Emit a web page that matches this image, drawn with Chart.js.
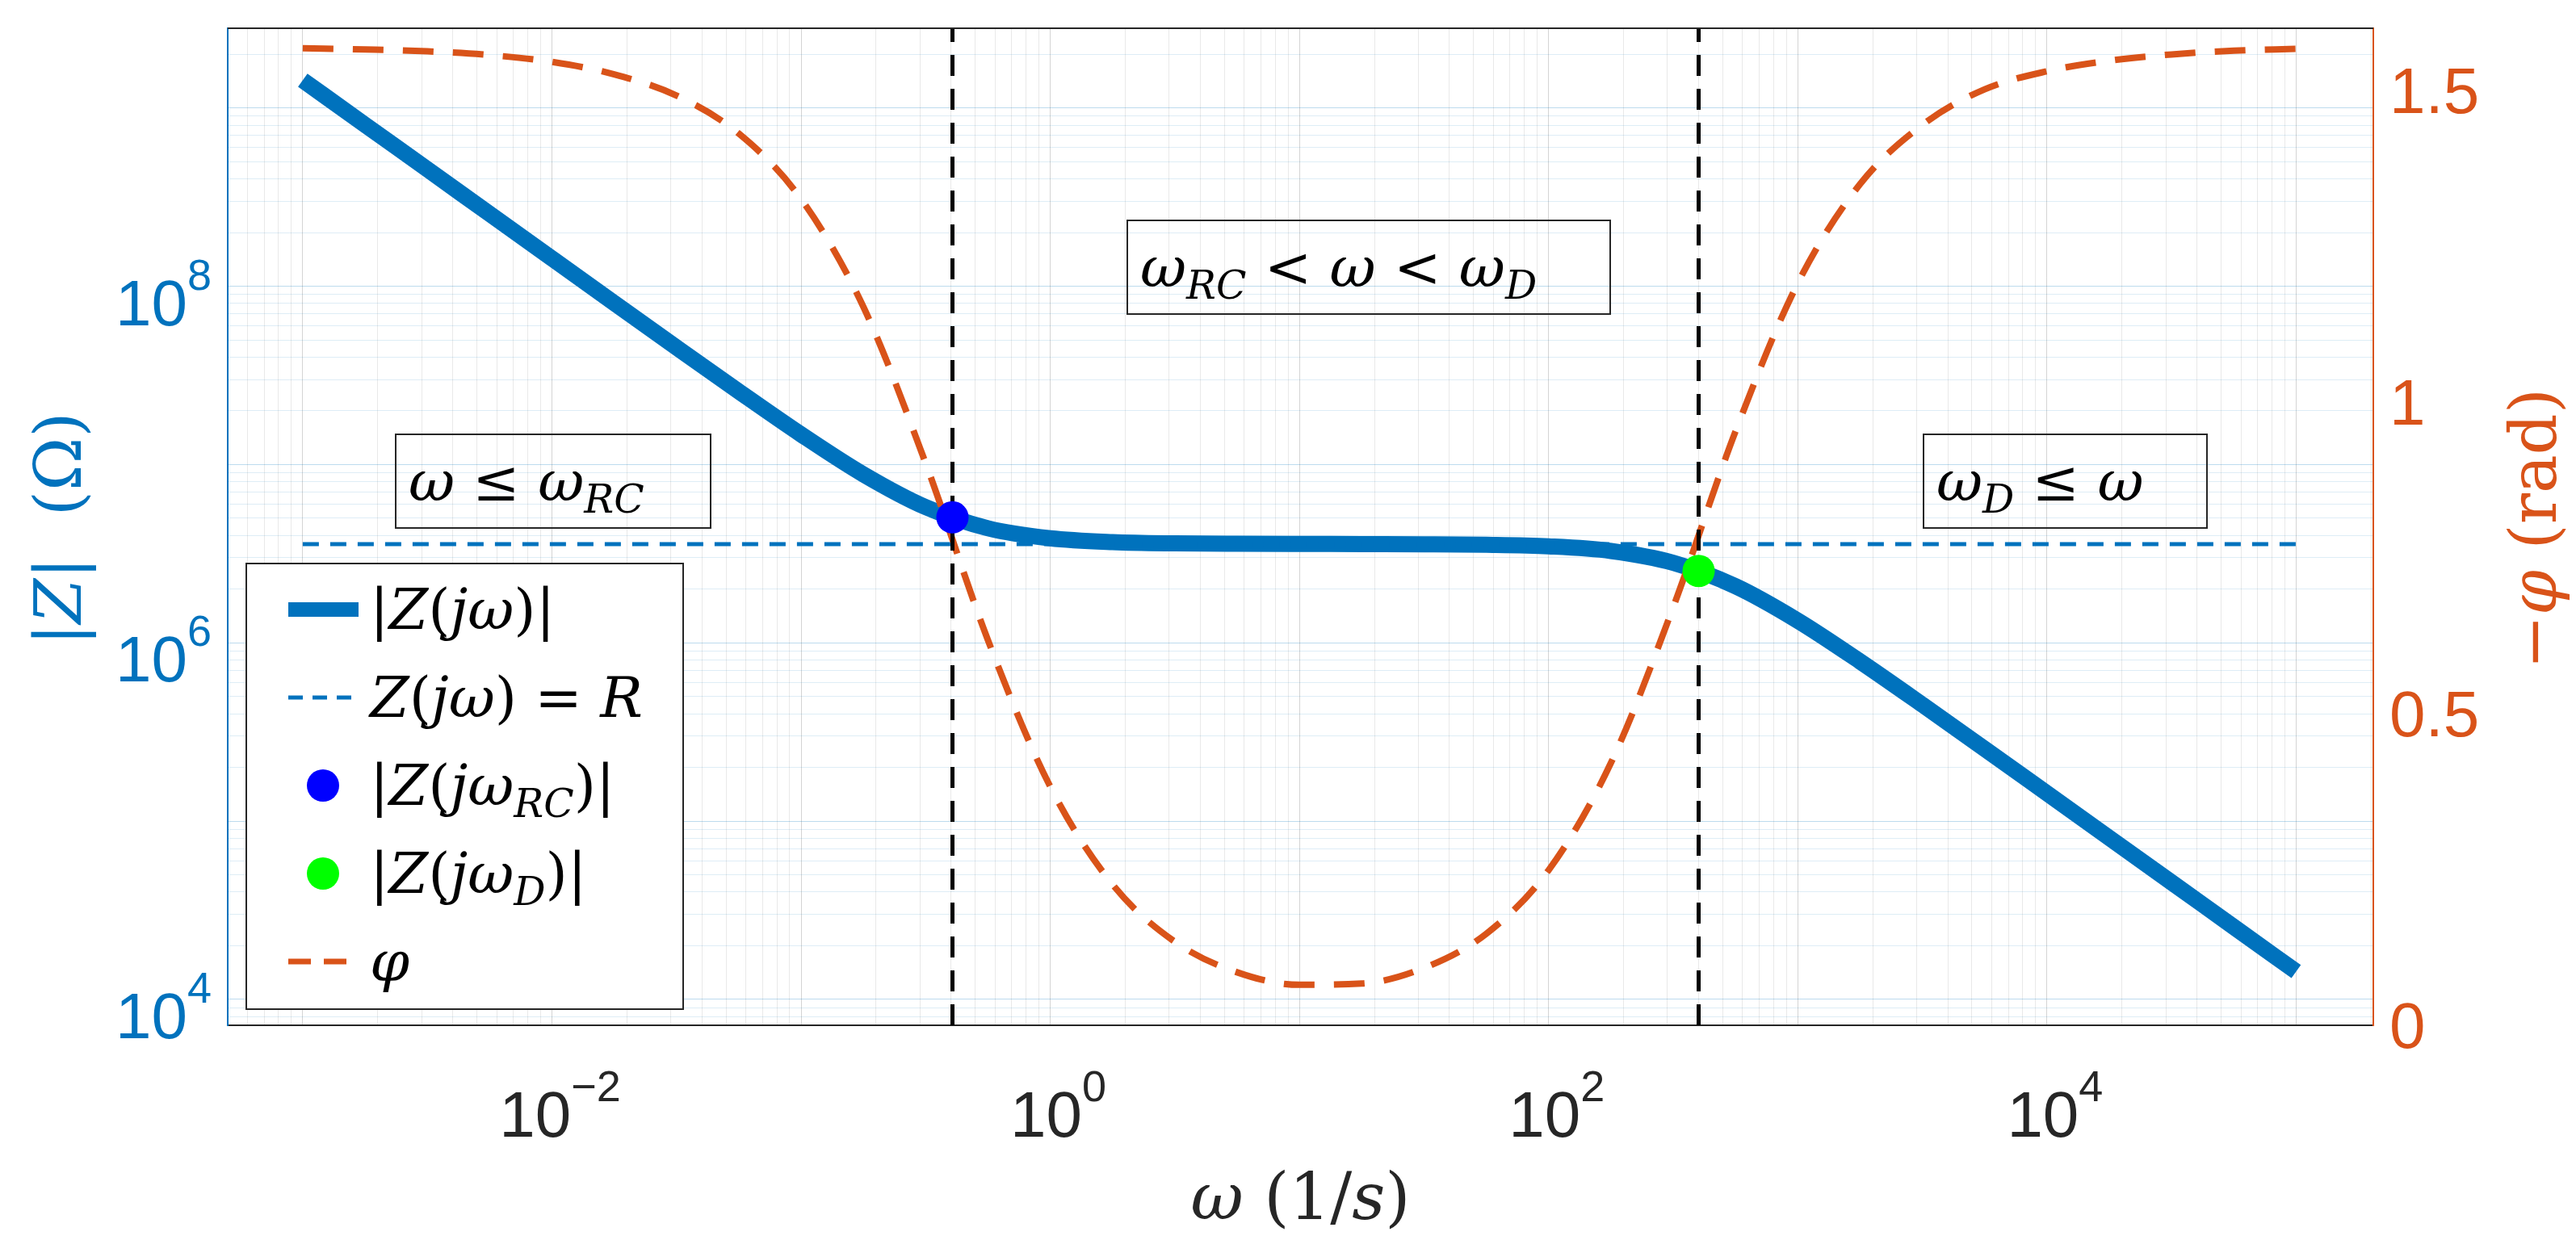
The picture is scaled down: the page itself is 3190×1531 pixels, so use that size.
<!DOCTYPE html>
<html>
<head>
<meta charset="utf-8">
<script src="https://cdn.jsdelivr.net/npm/chart.js@4"></script>
<style>
  html, body { margin: 0; padding: 0; background: #fff; }
  #wrap { width: 3190px; height: 1531px; }
</style>
</head>
<body>
<div id="wrap"><canvas id="bode" width="3190" height="1531"></canvas></div>
<script>
// --- Data ---
const omega = [0.001, 0.001778, 0.003162, 0.005623, 0.01, 0.01778, 0.03162, 0.05623,
  0.1, 0.1778, 0.3162, 0.5623, 1, 1.778, 3.162, 5.623, 10, 17.78, 31.62, 56.23,
  100, 177.8, 316.2, 562.3, 1000, 1778, 3162, 5623, 10000, 17783, 31623, 56234, 100000];
const zMag = [1.432e9, 8.05e8, 4.53e8, 2.546e8, 1.432e8, 8.06e7, 4.54e7, 2.572e7,
  1.476e7, 8.81e6, 5.77e6, 4.39e6, 3.86e6, 3.673e6, 3.612e6, 3.593e6, 3.585e6, 3.581e6,
  3.573e6, 3.549e6, 3.477e6, 3.275e6, 2.811e6, 2.077e6, 1.331e6, 7.86e5, 4.497e5,
  2.543e5, 1.432e5, 8.06e4, 4.533e4, 2.548e4, 1.433e4];
const phase = [1.568, 1.566, 1.563, 1.557, 1.546, 1.526, 1.492, 1.431, 1.326, 1.153,
  0.902, 0.618, 0.383, 0.226, 0.134, 0.085, 0.065, 0.067, 0.092, 0.147, 0.249, 0.421,
  0.671, 0.953, 1.191, 1.350, 1.445, 1.502, 1.531, 1.548, 1.558, 1.564, 1.567];
const rLevel = 3.58e6;
const rSpan = [0.001, 100000];
const wRC = 0.405, zRC = 5.06e6;
const wD = 400, zD = 2.53e6;
const xRange = [5e-4, 2.04e5];
const yRange = [7.16e3, 2.8e9];
const phaseRange = [0, 1.6];
const xMajors = [-2, 0, 2, 4];
const yMajors = [4, 6, 8];
const phaseTicks = [0, 0.5, 1, 1.5];

const BLUE = "#0072BD", ORANGE = "#D95319";
const SERIF = '"DejaVu Serif", "Liberation Serif", serif';
const SANS = '"Liberation Sans", Arial, sans-serif';

function logTicks(min, max) {
  const out = [];
  for (let k = -5; k <= 10; k++)
    for (let m = 1; m <= 9; m++) {
      const v = m * Math.pow(10, k);
      if (v >= min * 0.999 && v <= max * 1.001) out.push({ value: v });
    }
  return out;
}
const isMajor = (v) => Math.abs(Math.log10(v) - Math.round(Math.log10(v))) < 1e-6;

// --- Rich text: parts [{t, it, sub}] ---
function richWidth(ctx, parts, size) {
  let w = 0;
  parts.forEach((p) => {
    const s = p.sub ? size * 0.7 : size;
    ctx.font = (p.it ? "italic " : "") + s + "px " + SERIF;
    w += ctx.measureText(p.t).width;
  });
  return w;
}
function drawRich(ctx, parts, x, y, size, color, align) {
  let w = richWidth(ctx, parts, size);
  let cx = align === "center" ? x - w / 2 : x;
  ctx.fillStyle = color;
  ctx.textBaseline = "alphabetic";
  ctx.textAlign = "left";
  parts.forEach((p) => {
    const s = p.sub ? size * 0.7 : size;
    ctx.font = (p.it ? "italic " : "") + s + "px " + SERIF;
    ctx.fillText(p.t, cx, p.sub ? y + size * 0.22 : y);
    cx += ctx.measureText(p.t).width;
  });
}
const I = (t) => ({ t, it: true });
const U = (t) => ({ t, it: false });
const S = (t) => ({ t, it: true, sub: true });

function drawPow(ctx, exp, x, y, color, align) {
  const base = 80, sup = 54;
  ctx.font = base + "px " + SANS;
  const wb = ctx.measureText("10").width;
  ctx.font = sup + "px " + SANS;
  const we = ctx.measureText(exp).width;
  let sx = align === "right" ? x - wb - we : x - (wb + we) / 2;
  ctx.fillStyle = color;
  ctx.textAlign = "left";
  ctx.textBaseline = "alphabetic";
  ctx.font = base + "px " + SANS;
  ctx.fillText("10", sx, y);
  ctx.font = sup + "px " + SANS;
  ctx.fillText(exp, sx + wb, y - 44);
}

// --- Overlay: labels, legend, text boxes, frame ---
const overlay = {
  id: "overlay",
  afterDraw(chart) {
    const ctx = chart.ctx;
    const { left, right, top, bottom } = chart.chartArea;
    const sx = chart.scales.x, sy = chart.scales.y, sp = chart.scales.y2;
    ctx.save();
    ctx.strokeStyle = "#262626"; ctx.lineWidth = 2;
    ctx.beginPath(); ctx.moveTo(left, top); ctx.lineTo(right, top); ctx.stroke();

    // tick labels
    xMajors.forEach((e) => {
      drawPow(ctx, e < 0 ? "\u2212" + (-e) : String(e), sx.getPixelForValue(Math.pow(10, e)) + 10, bottom + 138, "#262626", "center");
    });
    yMajors.forEach((e) => {
      drawPow(ctx, String(e), left - 20, sy.getPixelForValue(Math.pow(10, e)) + 48, BLUE, "right");
    });
    ctx.font = "80px " + SANS; ctx.fillStyle = ORANGE;
    ctx.textAlign = "left"; ctx.textBaseline = "middle";
    phaseTicks.forEach((v) => ctx.fillText(String(v), right + 20, sp.getPixelForValue(v) + 6));

    // axis titles
    drawRich(ctx, [I("\u03c9"), U(" (1/"), I("s"), U(")")], (left + right) / 2, 1510, 80, "#262626", "center");
    ctx.save(); ctx.translate(100, 655); ctx.rotate(-Math.PI / 2);
    drawRich(ctx, [U("|"), I("Z"), U("|  (\u03a9)")], 0, 0, 80, BLUE, "center");
    ctx.restore();
    ctx.save(); ctx.translate(3165, 655); ctx.rotate(-Math.PI / 2);
    drawRich(ctx, [U("\u2212"), I("\u03c6"), U(" (rad)")], 0, 0, 80, ORANGE, "center");
    ctx.restore();

    // region boxes
    const boxes = [
      { x: 490, y: 538, w: 390, h: 116, parts: [I("\u03c9 \u2264 \u03c9"), S("RC")] },
      { x: 1396, y: 273, w: 598, h: 116, parts: [I("\u03c9"), S("RC"), I(" < \u03c9 < \u03c9"), S("D")] },
      { x: 2382, y: 538, w: 351, h: 116, parts: [I("\u03c9"), S("D"), I(" \u2264 \u03c9")] }
    ];
    boxes.forEach((b) => {
      ctx.strokeStyle = "#262626"; ctx.lineWidth = 2;
      ctx.strokeRect(b.x, b.y, b.w, b.h);
      drawRich(ctx, b.parts, b.x + 16, b.y + 82, 70, "#000", "left");
    });

    // legend
    const lx = 305, ly = 698, lw = 541, lh = 552;
    ctx.fillStyle = "#fff"; ctx.fillRect(lx, ly, lw, lh);
    ctx.strokeStyle = "#262626"; ctx.lineWidth = 2; ctx.strokeRect(lx, ly, lw, lh);
    const rows = [
      { kind: "line", color: BLUE, width: 18, dash: [], parts: [U("|"), I("Z"), U("("), I("j\u03c9"), U(")|")] },
      { kind: "line", color: BLUE, width: 5, dash: [18, 12], parts: [I("Z"), U("("), I("j\u03c9"), U(") = "), I("R")] },
      { kind: "dot", color: "#0000FF", parts: [U("|"), I("Z"), U("("), I("j\u03c9"), S("RC"), U(")|")] },
      { kind: "dot", color: "#00FF00", parts: [U("|"), I("Z"), U("("), I("j\u03c9"), S("D"), U(")|")] },
      { kind: "line", color: ORANGE, width: 7, dash: [28, 16], parts: [I("\u03c6")] }
    ];
    rows.forEach((r, i) => {
      const cy = 755 + i * 109;
      if (r.kind === "line") {
        ctx.strokeStyle = r.color; ctx.lineWidth = r.width; ctx.setLineDash(r.dash);
        ctx.beginPath(); ctx.moveTo(357, cy); ctx.lineTo(444, cy); ctx.stroke();
        ctx.setLineDash([]);
      } else {
        ctx.fillStyle = r.color;
        ctx.beginPath(); ctx.arc(400, cy, 20, 0, Math.PI * 2); ctx.fill();
      }
      drawRich(ctx, r.parts, 458, cy + 24, 70, "#000", "left");
    });
    ctx.restore();
  }
};

const xyPairs = (xs, ys) => xs.map((x, i) => ({ x, y: ys[i] }));

new Chart(document.getElementById("bode"), {
  type: "line",
  data: {
    datasets: [
      { label: "wRC", data: [{ x: wRC, y: zRC }], yAxisID: "y", showLine: false,
        pointRadius: 20, pointBackgroundColor: "#0000FF", pointBorderWidth: 0 },
      { label: "wD", data: [{ x: wD, y: zD }], yAxisID: "y", showLine: false,
        pointRadius: 20, pointBackgroundColor: "#00FF00", pointBorderWidth: 0 },
      { label: "vRC", data: [{ x: wRC, y: phaseRange[0] }, { x: wRC, y: phaseRange[1] }], yAxisID: "y2",
        borderColor: "#000", borderWidth: 5, borderDash: [26, 16], pointRadius: 0 },
      { label: "vD", data: [{ x: wD, y: phaseRange[0] }, { x: wD, y: phaseRange[1] }], yAxisID: "y2",
        borderColor: "#000", borderWidth: 5, borderDash: [26, 16], pointRadius: 0 },
      { label: "phi", data: xyPairs(omega, phase), yAxisID: "y2", borderColor: ORANGE,
        borderWidth: 8, borderDash: [38, 24], pointRadius: 0, cubicInterpolationMode: "monotone" },
      { label: "R", data: rSpan.map((x) => ({ x, y: rLevel })), yAxisID: "y", borderColor: BLUE,
        borderWidth: 5, borderDash: [20, 14], pointRadius: 0 },
      { label: "Z", data: xyPairs(omega, zMag), yAxisID: "y", borderColor: BLUE,
        borderWidth: 20, pointRadius: 0, cubicInterpolationMode: "monotone", borderCapStyle: "butt" }
    ]
  },
  options: {
    responsive: false,
    animation: false,
    devicePixelRatio: 1,
    layout: { padding: { top: 35, right: 0, left: 0, bottom: 0 } },
    plugins: { legend: { display: false }, tooltip: { enabled: false } },
    scales: {
      x: {
        type: "logarithmic", min: xRange[0], max: xRange[1],
        afterBuildTicks: (s) => { s.ticks = logTicks(xRange[0], xRange[1]); },
        afterFit: (s) => { s.height = 261; },
        ticks: { display: false, autoSkip: false },
        grid: {
          drawTicks: false,
          color: (c) => (c.tick && isMajor(c.tick.value) ? "rgba(38,38,38,0.2)" : "rgba(38,38,38,0.1)")
        },
        border: { color: "#262626", width: 2 }
      },
      y: {
        type: "logarithmic", position: "left", min: yRange[0], max: yRange[1],
        afterBuildTicks: (s) => { s.ticks = logTicks(yRange[0], yRange[1]); },
        afterFit: (s) => { s.width = 282; },
        ticks: { display: false, autoSkip: false },
        grid: {
          drawTicks: false,
          color: (c) => (c.tick && isMajor(c.tick.value) ? "rgba(0,114,189,0.26)" : "rgba(0,114,189,0.13)")
        },
        border: { color: BLUE, width: 2 }
      },
      y2: {
        type: "linear", position: "right", min: phaseRange[0], max: phaseRange[1],
        afterFit: (s) => { s.width = 251; },
        ticks: { display: false, stepSize: 0.5 },
        grid: { drawOnChartArea: false, drawTicks: false },
        border: { color: ORANGE, width: 2 }
      }
    }
  },
  plugins: [overlay]
});
</script>
</body>
</html>
